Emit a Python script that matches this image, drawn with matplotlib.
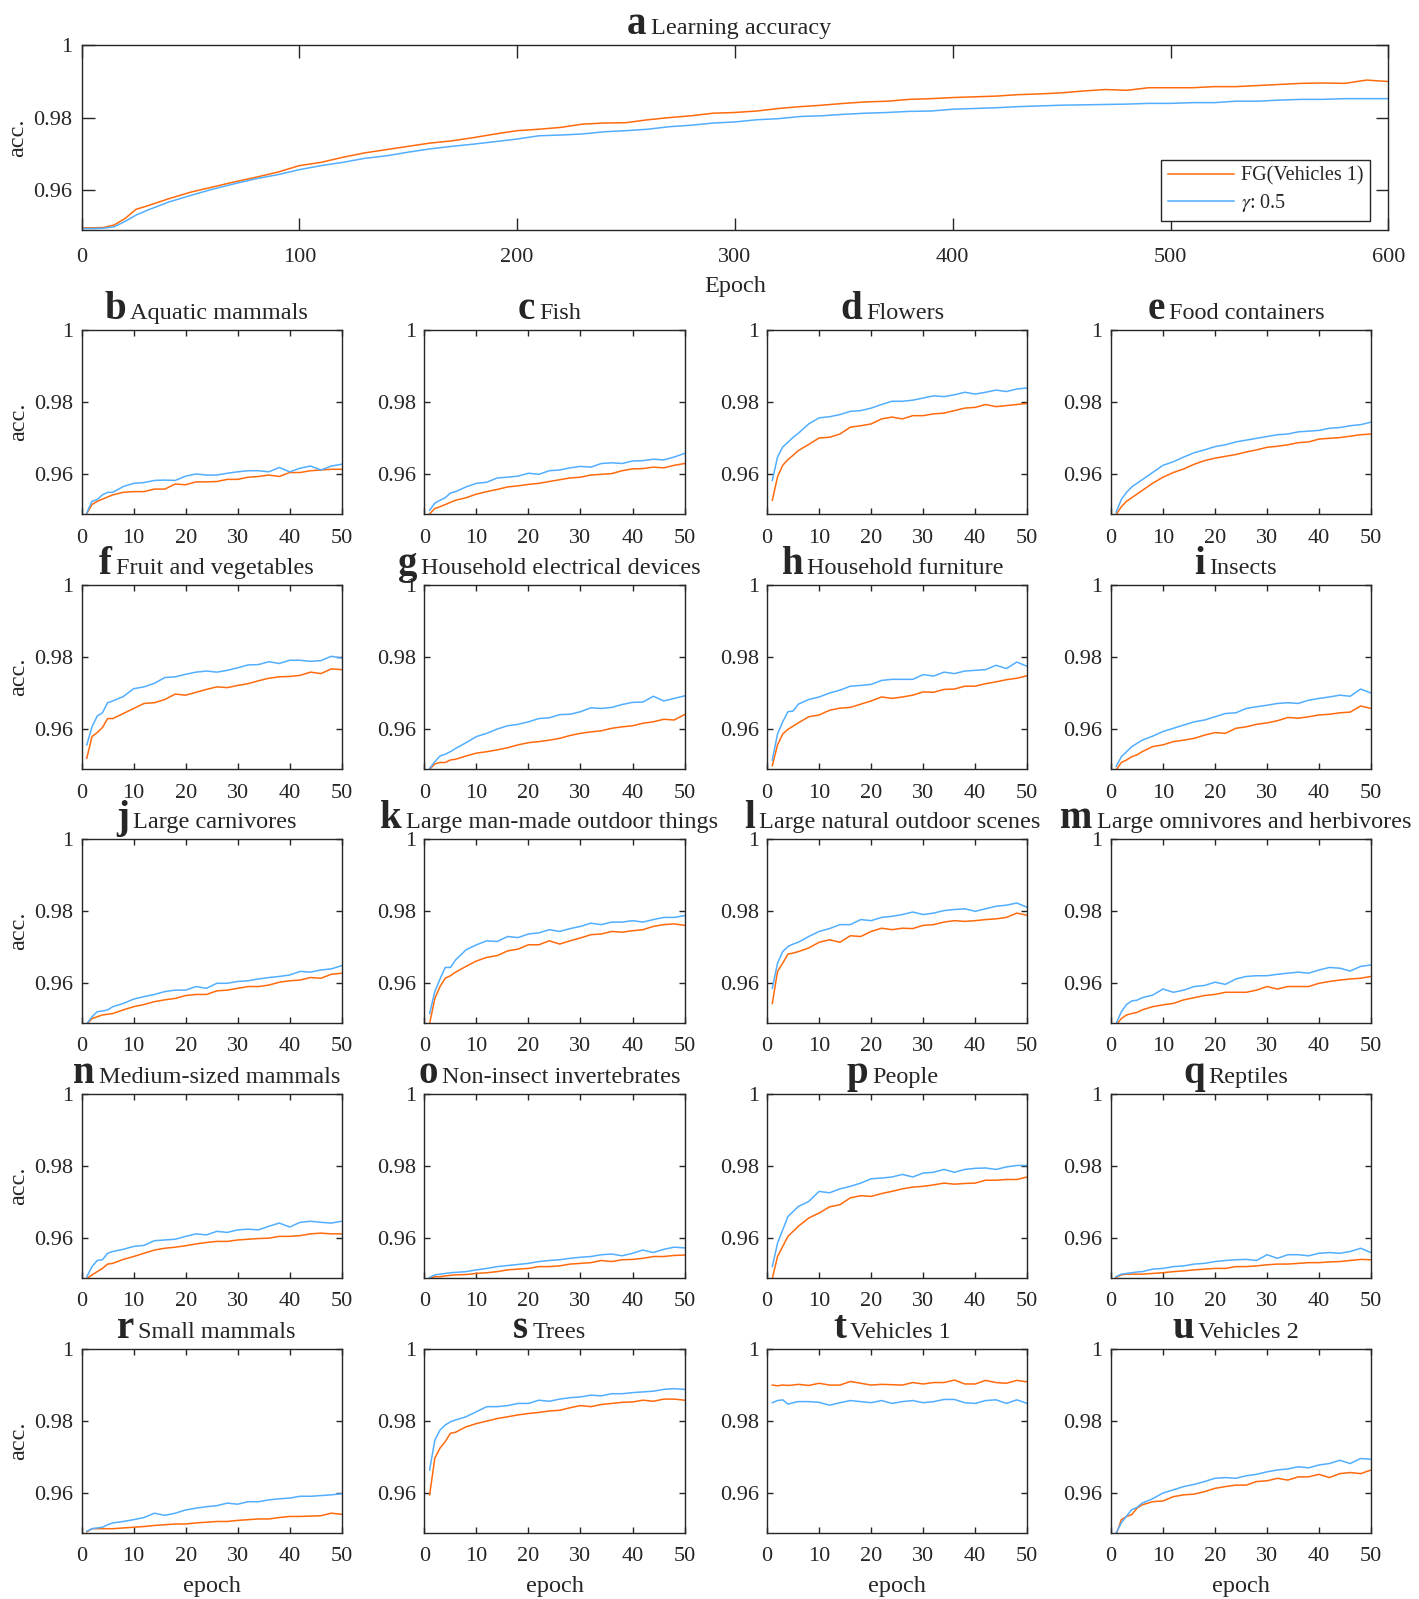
import matplotlib
matplotlib.use("Agg")
import matplotlib.pyplot as plt
from matplotlib.offsetbox import TextArea, HPacker, AnchoredOffsetbox

plt.rcParams['font.family'] = ['Liberation Serif', 'DejaVu Serif']
plt.rcParams['mathtext.fontset'] = 'stix'

TXT = '#262626'
ORANGE = '#FF6A0D'
BLUE = '#52AEFF'

# ---- panel a: whole-task learning accuracy over 600 epochs ----
epochs_a = [1, 5, 10, 15, 20, 25, 30] + list(range(40, 601, 10))
fg_a = [0.9497, 0.9497, 0.9498, 0.9505, 0.9523, 0.9548, 0.9557,
        0.9577, 0.9595, 0.9609, 0.9623, 0.9636, 0.9650, 0.9668, 0.9677,
        0.9691, 0.9703, 0.9712, 0.9721, 0.9730, 0.9736, 0.9745, 0.9755,
        0.9764, 0.9768, 0.9773, 0.9782, 0.9785, 0.9786, 0.9794, 0.9800,
        0.9805, 0.9812, 0.9814, 0.9818, 0.9825, 0.9830, 0.9834, 0.9839,
        0.9843, 0.9845, 0.9850, 0.9852, 0.9855, 0.9857, 0.9859, 0.9863,
        0.9865, 0.9868, 0.9873, 0.9877, 0.9875, 0.9882, 0.9882, 0.9882,
        0.9885, 0.9885, 0.9888, 0.9891, 0.9894, 0.9895, 0.9894, 0.9903,
        0.9899]
gam_a = [0.9495, 0.9495, 0.9496, 0.9500, 0.9515, 0.9532, 0.9545,
         0.9568, 0.9586, 0.9603, 0.9618, 0.9632, 0.9643, 0.9657, 0.9668,
         0.9677, 0.9688, 0.9695, 0.9705, 0.9714, 0.9721, 0.9727, 0.9734,
         0.9741, 0.9750, 0.9752, 0.9755, 0.9761, 0.9764, 0.9768, 0.9775,
         0.9779, 0.9785, 0.9788, 0.9794, 0.9797, 0.9803, 0.9805, 0.9809,
         0.9812, 0.9814, 0.9817, 0.9818, 0.9823, 0.9825, 0.9827, 0.9830,
         0.9832, 0.9834, 0.9835, 0.9836, 0.9837, 0.9839, 0.9839, 0.9841,
         0.9841, 0.9845, 0.9845, 0.9848, 0.9850, 0.9850, 0.9852, 0.9852,
         0.9852]

# ---- panels b-u: 50 epochs per superclass ----
epochs = [1, 2, 3, 4, 5, 6] + list(range(8, 51, 2))

letters = list("bcdefghijklmnopqrstu")
names = ["Aquatic mammals", "Fish", "Flowers", "Food containers",
         "Fruit and vegetables", "Household electrical devices",
         "Household furniture", "Insects", "Large carnivores",
         "Large man-made outdoor things", "Large natural outdoor scenes",
         "Large omnivores and herbivores", "Medium-sized mammals",
         "Non-insect invertebrates", "People", "Reptiles", "Small mammals",
         "Trees", "Vehicles 1", "Vehicles 2"]

fg_b = [0.9491, 0.9516, 0.9525, 0.9531, 0.9537, 0.9543, 0.9550, 0.9552, 0.9552, 0.9559, 0.9559, 0.9573, 0.9571, 0.9579, 0.9579, 0.9580, 0.9586, 0.9586, 0.9592, 0.9594, 0.9598, 0.9594, 0.9605, 0.9605, 0.9610, 0.9612, 0.9614, 0.9614]
gm_b = [0.9493, 0.9525, 0.9530, 0.9543, 0.9550, 0.9550, 0.9566, 0.9575, 0.9577, 0.9583, 0.9584, 0.9583, 0.9595, 0.9601, 0.9598, 0.9598, 0.9603, 0.9607, 0.9610, 0.9610, 0.9607, 0.9619, 0.9607, 0.9617, 0.9623, 0.9612, 0.9623, 0.9628]
fg_c = [0.9490, 0.9505, 0.9510, 0.9516, 0.9522, 0.9528, 0.9535, 0.9545, 0.9552, 0.9558, 0.9565, 0.9568, 0.9572, 0.9575, 0.9580, 0.9585, 0.9590, 0.9592, 0.9598, 0.9600, 0.9602, 0.9610, 0.9615, 0.9616, 0.9620, 0.9618, 0.9625, 0.9630]
gm_c = [0.9500, 0.9520, 0.9528, 0.9535, 0.9548, 0.9552, 0.9565, 0.9575, 0.9578, 0.9590, 0.9592, 0.9595, 0.9603, 0.9600, 0.9610, 0.9612, 0.9618, 0.9622, 0.9620, 0.9630, 0.9632, 0.9630, 0.9637, 0.9638, 0.9642, 0.9640, 0.9648, 0.9658]
fg_d = [0.9528, 0.9593, 0.9625, 0.9641, 0.9653, 0.9666, 0.9683, 0.9701, 0.9703, 0.9712, 0.9731, 0.9735, 0.9740, 0.9754, 0.9759, 0.9754, 0.9763, 0.9763, 0.9768, 0.9770, 0.9777, 0.9784, 0.9786, 0.9794, 0.9788, 0.9791, 0.9794, 0.9797]
gm_d = [0.9583, 0.9648, 0.9676, 0.9689, 0.9703, 0.9714, 0.9740, 0.9757, 0.9760, 0.9766, 0.9775, 0.9777, 0.9784, 0.9794, 0.9803, 0.9803, 0.9806, 0.9812, 0.9818, 0.9816, 0.9821, 0.9828, 0.9823, 0.9828, 0.9834, 0.9830, 0.9837, 0.9840]
fg_e = [0.9488, 0.9510, 0.9525, 0.9535, 0.9545, 0.9555, 0.9575, 0.9592, 0.9605, 0.9615, 0.9628, 0.9638, 0.9645, 0.9650, 0.9655, 0.9662, 0.9668, 0.9675, 0.9678, 0.9682, 0.9688, 0.9690, 0.9698, 0.9700, 0.9702, 0.9706, 0.9710, 0.9712]
gm_e = [0.9495, 0.9530, 0.9550, 0.9565, 0.9575, 0.9585, 0.9605, 0.9625, 0.9635, 0.9648, 0.9660, 0.9668, 0.9677, 0.9682, 0.9690, 0.9695, 0.9700, 0.9705, 0.9710, 0.9712, 0.9718, 0.9720, 0.9722, 0.9728, 0.9730, 0.9735, 0.9738, 0.9745]
fg_f = [0.9520, 0.9580, 0.9591, 0.9605, 0.9630, 0.9630, 0.9644, 0.9658, 0.9672, 0.9674, 0.9683, 0.9698, 0.9695, 0.9703, 0.9711, 0.9718, 0.9716, 0.9722, 0.9727, 0.9735, 0.9742, 0.9746, 0.9747, 0.9750, 0.9759, 0.9755, 0.9768, 0.9766]
gm_f = [0.9557, 0.9607, 0.9637, 0.9646, 0.9674, 0.9679, 0.9691, 0.9713, 0.9718, 0.9728, 0.9744, 0.9746, 0.9753, 0.9759, 0.9762, 0.9759, 0.9764, 0.9771, 0.9779, 0.9780, 0.9788, 0.9783, 0.9792, 0.9792, 0.9789, 0.9791, 0.9803, 0.9798]
fg_g = [0.9489, 0.9504, 0.9508, 0.9508, 0.9515, 0.9517, 0.9526, 0.9534, 0.9538, 0.9543, 0.9549, 0.9557, 0.9563, 0.9566, 0.9570, 0.9575, 0.9583, 0.9589, 0.9593, 0.9596, 0.9603, 0.9607, 0.9610, 0.9617, 0.9621, 0.9628, 0.9626, 0.9641]
gm_g = [0.9492, 0.9510, 0.9526, 0.9531, 0.9538, 0.9547, 0.9563, 0.9580, 0.9589, 0.9601, 0.9610, 0.9614, 0.9621, 0.9630, 0.9632, 0.9641, 0.9642, 0.9649, 0.9660, 0.9658, 0.9661, 0.9669, 0.9675, 0.9676, 0.9692, 0.9679, 0.9686, 0.9693]
fg_h = [0.9499, 0.9557, 0.9587, 0.9600, 0.9609, 0.9618, 0.9635, 0.9640, 0.9653, 0.9659, 0.9661, 0.9670, 0.9679, 0.9690, 0.9686, 0.9690, 0.9695, 0.9704, 0.9703, 0.9711, 0.9712, 0.9720, 0.9720, 0.9727, 0.9732, 0.9738, 0.9742, 0.9749]
gm_h = [0.9515, 0.9587, 0.9621, 0.9649, 0.9651, 0.9670, 0.9683, 0.9690, 0.9701, 0.9709, 0.9720, 0.9722, 0.9725, 0.9736, 0.9739, 0.9739, 0.9739, 0.9752, 0.9748, 0.9759, 0.9755, 0.9762, 0.9764, 0.9766, 0.9778, 0.9769, 0.9787, 0.9775]
fg_i = [0.9487, 0.9508, 0.9515, 0.9524, 0.9529, 0.9538, 0.9552, 0.9557, 0.9566, 0.9570, 0.9575, 0.9584, 0.9591, 0.9589, 0.9603, 0.9607, 0.9614, 0.9618, 0.9624, 0.9633, 0.9631, 0.9635, 0.9640, 0.9642, 0.9646, 0.9648, 0.9665, 0.9658]
gm_i = [0.9497, 0.9524, 0.9538, 0.9552, 0.9561, 0.9570, 0.9581, 0.9594, 0.9603, 0.9612, 0.9621, 0.9626, 0.9635, 0.9644, 0.9646, 0.9658, 0.9663, 0.9667, 0.9672, 0.9674, 0.9672, 0.9681, 0.9686, 0.9690, 0.9695, 0.9692, 0.9712, 0.9701]
fg_j = [0.9486, 0.9502, 0.9507, 0.9512, 0.9514, 0.9516, 0.9526, 0.9535, 0.9541, 0.9549, 0.9554, 0.9558, 0.9566, 0.9569, 0.9569, 0.9579, 0.9581, 0.9586, 0.9591, 0.9591, 0.9595, 0.9603, 0.9607, 0.9609, 0.9616, 0.9614, 0.9625, 0.9628]
gm_j = [0.9488, 0.9507, 0.9521, 0.9523, 0.9526, 0.9535, 0.9544, 0.9556, 0.9563, 0.9569, 0.9577, 0.9581, 0.9581, 0.9591, 0.9586, 0.9600, 0.9600, 0.9605, 0.9607, 0.9612, 0.9616, 0.9619, 0.9623, 0.9633, 0.9631, 0.9637, 0.9640, 0.9649]
fg_k = [0.9488, 0.9558, 0.9591, 0.9614, 0.9621, 0.9631, 0.9647, 0.9662, 0.9672, 0.9677, 0.9690, 0.9695, 0.9707, 0.9707, 0.9718, 0.9709, 0.9718, 0.9726, 0.9735, 0.9737, 0.9744, 0.9742, 0.9746, 0.9749, 0.9758, 0.9763, 0.9765, 0.9761]
gm_k = [0.9516, 0.9577, 0.9612, 0.9644, 0.9644, 0.9665, 0.9693, 0.9707, 0.9718, 0.9716, 0.9730, 0.9727, 0.9737, 0.9740, 0.9749, 0.9744, 0.9752, 0.9758, 0.9767, 0.9763, 0.9770, 0.9770, 0.9774, 0.9770, 0.9777, 0.9783, 0.9783, 0.9788]
fg_l = [0.9544, 0.9633, 0.9656, 0.9681, 0.9684, 0.9688, 0.9698, 0.9714, 0.9721, 0.9714, 0.9732, 0.9730, 0.9744, 0.9753, 0.9749, 0.9753, 0.9752, 0.9761, 0.9763, 0.9770, 0.9774, 0.9772, 0.9774, 0.9777, 0.9779, 0.9783, 0.9795, 0.9789]
gm_l = [0.9586, 0.9656, 0.9688, 0.9702, 0.9709, 0.9714, 0.9730, 0.9744, 0.9752, 0.9763, 0.9763, 0.9777, 0.9774, 0.9783, 0.9786, 0.9791, 0.9798, 0.9791, 0.9795, 0.9802, 0.9805, 0.9807, 0.9800, 0.9807, 0.9814, 0.9817, 0.9823, 0.9811]
fg_m = [0.9484, 0.9502, 0.9512, 0.9516, 0.9519, 0.9526, 0.9535, 0.9540, 0.9544, 0.9554, 0.9560, 0.9566, 0.9569, 0.9575, 0.9575, 0.9575, 0.9581, 0.9591, 0.9584, 0.9591, 0.9591, 0.9591, 0.9600, 0.9605, 0.9609, 0.9612, 0.9614, 0.9619]
gm_m = [0.9488, 0.9521, 0.9541, 0.9551, 0.9553, 0.9560, 0.9567, 0.9584, 0.9575, 0.9581, 0.9591, 0.9594, 0.9603, 0.9597, 0.9612, 0.9619, 0.9621, 0.9621, 0.9625, 0.9628, 0.9631, 0.9628, 0.9637, 0.9644, 0.9642, 0.9634, 0.9647, 0.9651]
fg_n = [0.9488, 0.9498, 0.9507, 0.9516, 0.9528, 0.9530, 0.9541, 0.9549, 0.9558, 0.9567, 0.9572, 0.9575, 0.9579, 0.9584, 0.9588, 0.9591, 0.9591, 0.9595, 0.9597, 0.9599, 0.9600, 0.9605, 0.9605, 0.9607, 0.9612, 0.9614, 0.9612, 0.9612]
gm_n = [0.9493, 0.9521, 0.9538, 0.9540, 0.9558, 0.9563, 0.9569, 0.9577, 0.9580, 0.9593, 0.9595, 0.9597, 0.9605, 0.9612, 0.9609, 0.9619, 0.9616, 0.9623, 0.9625, 0.9623, 0.9633, 0.9642, 0.9631, 0.9644, 0.9647, 0.9644, 0.9642, 0.9647]
fg_o = [0.9488, 0.9493, 0.9493, 0.9495, 0.9497, 0.9498, 0.9499, 0.9502, 0.9504, 0.9507, 0.9512, 0.9514, 0.9516, 0.9521, 0.9521, 0.9523, 0.9528, 0.9530, 0.9532, 0.9538, 0.9535, 0.9540, 0.9541, 0.9544, 0.9549, 0.9549, 0.9552, 0.9553]
gm_o = [0.9491, 0.9498, 0.9500, 0.9502, 0.9504, 0.9505, 0.9507, 0.9512, 0.9516, 0.9521, 0.9524, 0.9527, 0.9530, 0.9535, 0.9538, 0.9540, 0.9544, 0.9547, 0.9549, 0.9554, 0.9556, 0.9551, 0.9558, 0.9567, 0.9560, 0.9569, 0.9575, 0.9573]
fg_p = [0.9488, 0.9549, 0.9577, 0.9605, 0.9619, 0.9633, 0.9656, 0.9670, 0.9687, 0.9693, 0.9712, 0.9718, 0.9716, 0.9724, 0.9730, 0.9737, 0.9742, 0.9744, 0.9748, 0.9753, 0.9750, 0.9752, 0.9753, 0.9761, 0.9761, 0.9763, 0.9763, 0.9770]
gm_p = [0.9521, 0.9586, 0.9623, 0.9660, 0.9674, 0.9688, 0.9702, 0.9730, 0.9726, 0.9737, 0.9744, 0.9753, 0.9765, 0.9767, 0.9770, 0.9777, 0.9770, 0.9781, 0.9783, 0.9791, 0.9783, 0.9791, 0.9794, 0.9795, 0.9791, 0.9798, 0.9802, 0.9802]
fg_q = [0.9491, 0.9498, 0.9500, 0.9500, 0.9500, 0.9500, 0.9502, 0.9504, 0.9507, 0.9509, 0.9512, 0.9514, 0.9516, 0.9516, 0.9521, 0.9521, 0.9523, 0.9526, 0.9528, 0.9528, 0.9530, 0.9532, 0.9532, 0.9534, 0.9535, 0.9538, 0.9541, 0.9540]
gm_q = [0.9493, 0.9500, 0.9502, 0.9504, 0.9506, 0.9507, 0.9514, 0.9516, 0.9521, 0.9523, 0.9528, 0.9530, 0.9535, 0.9538, 0.9540, 0.9541, 0.9538, 0.9554, 0.9544, 0.9554, 0.9554, 0.9551, 0.9558, 0.9560, 0.9558, 0.9563, 0.9572, 0.9560]
fg_r = [0.9492, 0.9501, 0.9501, 0.9501, 0.9501, 0.9501, 0.9503, 0.9505, 0.9507, 0.9510, 0.9512, 0.9514, 0.9514, 0.9517, 0.9519, 0.9521, 0.9521, 0.9524, 0.9526, 0.9528, 0.9528, 0.9532, 0.9535, 0.9535, 0.9536, 0.9537, 0.9544, 0.9541]
gm_r = [0.9494, 0.9501, 0.9503, 0.9505, 0.9512, 0.9517, 0.9521, 0.9526, 0.9532, 0.9544, 0.9538, 0.9544, 0.9553, 0.9558, 0.9562, 0.9565, 0.9572, 0.9569, 0.9576, 0.9576, 0.9581, 0.9584, 0.9586, 0.9591, 0.9591, 0.9593, 0.9595, 0.9598]
fg_s = [0.9595, 0.9697, 0.9725, 0.9743, 0.9766, 0.9769, 0.9784, 0.9793, 0.9800, 0.9807, 0.9812, 0.9817, 0.9821, 0.9824, 0.9828, 0.9830, 0.9837, 0.9843, 0.9840, 0.9846, 0.9849, 0.9852, 0.9853, 0.9858, 0.9855, 0.9861, 0.9861, 0.9858]
gm_s = [0.9664, 0.9747, 0.9775, 0.9789, 0.9798, 0.9803, 0.9812, 0.9826, 0.9840, 0.9840, 0.9843, 0.9849, 0.9849, 0.9858, 0.9855, 0.9861, 0.9865, 0.9867, 0.9872, 0.9870, 0.9876, 0.9876, 0.9879, 0.9881, 0.9883, 0.9888, 0.9890, 0.9888]
fg_t = [0.9900, 0.9898, 0.9900, 0.9899, 0.9900, 0.9902, 0.9899, 0.9905, 0.9900, 0.9900, 0.9910, 0.9905, 0.9900, 0.9902, 0.9901, 0.9900, 0.9907, 0.9903, 0.9907, 0.9907, 0.9914, 0.9903, 0.9903, 0.9913, 0.9907, 0.9905, 0.9913, 0.9909]
gm_t = [0.9851, 0.9857, 0.9859, 0.9847, 0.9851, 0.9854, 0.9854, 0.9852, 0.9844, 0.9851, 0.9857, 0.9854, 0.9851, 0.9857, 0.9849, 0.9854, 0.9857, 0.9851, 0.9854, 0.9860, 0.9860, 0.9851, 0.9849, 0.9857, 0.9859, 0.9849, 0.9859, 0.9849]
fg_u = [0.9484, 0.9526, 0.9535, 0.9540, 0.9558, 0.9567, 0.9576, 0.9578, 0.9590, 0.9595, 0.9597, 0.9604, 0.9613, 0.9618, 0.9622, 0.9622, 0.9632, 0.9634, 0.9641, 0.9636, 0.9645, 0.9645, 0.9652, 0.9643, 0.9654, 0.9657, 0.9654, 0.9664]
gm_u = [0.9489, 0.9517, 0.9536, 0.9554, 0.9560, 0.9572, 0.9584, 0.9600, 0.9609, 0.9618, 0.9624, 0.9632, 0.9641, 0.9643, 0.9641, 0.9648, 0.9652, 0.9659, 0.9664, 0.9667, 0.9673, 0.9670, 0.9678, 0.9682, 0.9691, 0.9682, 0.9696, 0.9694]

fg_all = [fg_b, fg_c, fg_d, fg_e, fg_f, fg_g, fg_h, fg_i, fg_j, fg_k,
          fg_l, fg_m, fg_n, fg_o, fg_p, fg_q, fg_r, fg_s, fg_t, fg_u]
gm_all = [gm_b, gm_c, gm_d, gm_e, gm_f, gm_g, gm_h, gm_i, gm_j, gm_k,
          gm_l, gm_m, gm_n, gm_o, gm_p, gm_q, gm_r, gm_s, gm_t, gm_u]

YTICKS = [0.96, 0.98, 1.0]
YTICKLABELS = ['0.96', '0.98', '1']
YLIM = (0.949, 1.0)


def style_axes(ax, ticklen, xpad, ypad):
    for sp in ax.spines.values():
        sp.set_linewidth(1.0)
        sp.set_color(TXT)
    ax.tick_params(direction='in', top=True, right=True, length=ticklen,
                   width=1.0, color=TXT, labelcolor=TXT, labelsize=16)
    ax.tick_params(axis='x', pad=xpad)
    ax.tick_params(axis='y', pad=ypad)
    ax.set_ylim(*YLIM)
    ax.set_yticks(YTICKS)
    ax.set_yticklabels(YTICKLABELS)


def add_title(fig, ax, letter, name, xc=0.48, big=28, small=17.5):
    box = HPacker(children=[
        TextArea(letter, textprops=dict(fontsize=big, fontweight='bold', color=TXT)),
        TextArea(name, textprops=dict(fontsize=small, color=TXT))],
        align='baseline', pad=0, sep=3)
    ab = AnchoredOffsetbox(loc='lower center', child=box, pad=0, borderpad=0.15,
                           frameon=False, bbox_to_anchor=(xc, 1.0),
                           bbox_transform=ax.transAxes)
    fig.add_artist(ab)


fig = plt.figure(figsize=(14.19, 15.99), dpi=100)

# panel a
ax = fig.add_axes([0.0575, 0.8559, 0.9209, 0.1161])
ax.plot(epochs_a, fg_a, color=ORANGE, lw=1.1, label='FG(Vehicles 1)')
ax.plot(epochs_a, gam_a, color=BLUE, lw=1.1, label=r'$\gamma$: 0.5')
style_axes(ax, 9, 12.5, 6.5)
ax.set_xlim(0, 600)
ax.set_xticks([0, 100, 200, 300, 400, 500, 600])
ax.set_xlabel('Epoch', fontsize=17.5, color=TXT, labelpad=7)
ax.set_ylabel('acc.', fontsize=17.5, color=TXT, labelpad=4)
leg = ax.legend(loc='lower right', bbox_to_anchor=(0.986, 0.051),
                borderaxespad=0, fontsize=14.5, handlelength=3.3,
                handletextpad=0.3, labelspacing=0.3, borderpad=0.35,
                fancybox=False, framealpha=1, edgecolor=TXT)
leg.get_frame().set_linewidth(1.0)
for t in leg.get_texts():
    t.set_color(TXT)
add_title(fig, ax, 'a', 'Learning accuracy', xc=0.4953)

lefts = [0.0575, 0.2991, 0.5406, 0.7829]
bottoms = [0.6786, 0.5191, 0.3603, 0.2009, 0.0415]
w, h = 0.1833, 0.1148

for k in range(20):
    r, c = divmod(k, 4)
    ax = fig.add_axes([lefts[c], bottoms[r], w, h])
    ax.plot(epochs, fg_all[k], color=ORANGE, lw=1.1)
    ax.plot(epochs, gm_all[k], color=BLUE, lw=1.1)
    style_axes(ax, 4, 10.5, 6)
    ax.set_xlim(0, 50)
    ax.set_xticks([0, 10, 20, 30, 40, 50])
    if c == 0:
        ax.set_ylabel('acc.', fontsize=17.5, color=TXT, labelpad=4)
    if r == 4:
        ax.set_xlabel('epoch', fontsize=17.5, color=TXT, labelpad=7)
    add_title(fig, ax, letters[k], names[k])

fig.savefig('out.png', dpi=100)
